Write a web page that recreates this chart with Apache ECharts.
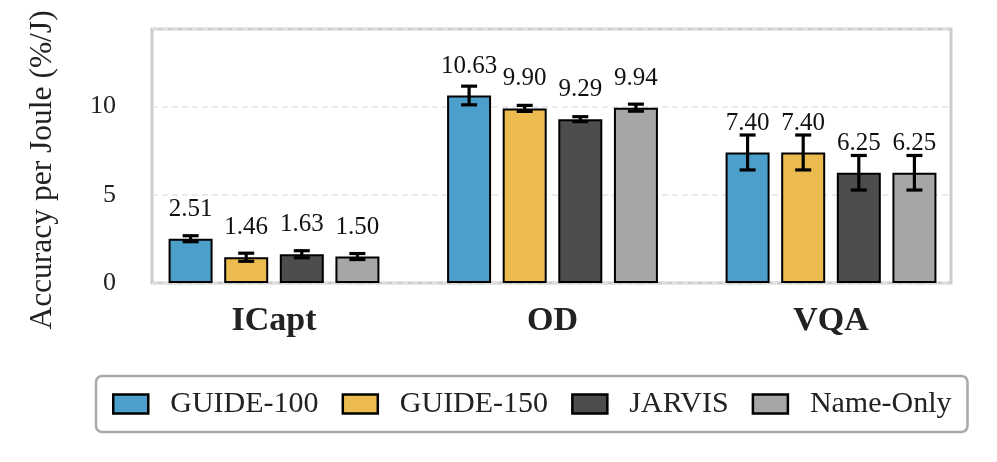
<!DOCTYPE html>
<html><head><meta charset="utf-8">
<script src="https://cdn.jsdelivr.net/npm/echarts@6/dist/echarts.min.js"></script>
<style>html,body{margin:0;padding:0;background:#fff}#c{width:997px;height:462px}</style>
</head><body><div id="c"></div>
<script>
const categories = ['ICapt', 'OD', 'VQA'];
const seriesNames = ['GUIDE-100', 'GUIDE-150', 'JARVIS', 'Name-Only'];
const guide100 = [2.51, 10.63, 7.40];
const guide150 = [1.46, 9.90, 7.40];
const jarvis = [1.63, 9.29, 6.25];
const nameOnly = [1.50, 9.94, 6.25];
const guide100Err = [0.17, 0.53, 0.99];
const guide150Err = [0.23, 0.17, 0.99];
const jarvisErr = [0.20, 0.14, 0.98];
const nameOnlyErr = [0.17, 0.20, 0.98];
const yTicks = [0, 5, 10];
const yTitle = 'Accuracy per Joule (%/J)';

const values = [guide100, guide150, jarvis, nameOnly];
const errs = [guide100Err, guide150Err, jarvisErr, nameOnlyErr];
const colors = ['#4D9FCB', '#ECBB4F', '#4D4D4D', '#A6A6A6'];
const FONT = '"Liberation Serif", "Times New Roman", serif';
const YMAX = 14.4;
const BAR_W = 44, PITCH = 55.6;

const errData = [];
values.forEach((vals, s) => vals.forEach((v, c) => errData.push([c, v, errs[s][c], s])));

const chart = echarts.init(document.getElementById('c'), null, {renderer: 'canvas'});
const barSeries = seriesNames.map((name, s) => ({
  name, type: 'bar', xAxisIndex: 1, yAxisIndex: 1,
  data: values[s], barWidth: BAR_W, barGap: ((PITCH - BAR_W) / BAR_W * 100).toFixed(1) + '%',
  itemStyle: {color: colors[s], borderColor: '#000', borderWidth: 2},
  label: {show: true, position: 'top', distance: 17, fontFamily: FONT, fontSize: 25, color: '#111',
    formatter: p => p.value.toFixed(2)},
  z: 2
}));

chart.setOption({
  animation: false,
  textStyle: {fontFamily: FONT},
  graphic: [{
    type: 'text', x: 43, y: 170, rotation: Math.PI / 2,
    style: {text: yTitle, fontFamily: FONT, fontSize: 31.5, fill: '#222',
      textAlign: 'center', textVerticalAlign: 'middle'}
  }],
  grid: [
    {left: 152, top: 29, width: 799, height: 254, show: true, borderColor: '#CCCCCC', borderWidth: 3, backgroundColor: 'transparent'},
    {left: 134.75, top: 29, width: 835.5, height: 254}
  ],
  legend: {
    data: seriesNames, left: 96, top: 376, orient: 'horizontal',
    itemWidth: 35, itemHeight: 19, itemGap: 23,
    padding: [13, 16, 13, 16],
    borderColor: '#AAAAAA', borderWidth: 2.5, borderRadius: 6, backgroundColor: '#fff',
    textStyle: {fontFamily: FONT, fontSize: 30, color: '#222', padding: [0, 0, 0, 17]},
    itemStyle: {borderColor: '#000', borderWidth: 2.5},
    icon: 'rect'
  },
  xAxis: [
    {type: 'category', gridIndex: 0, data: categories, show: false},
    {type: 'category', gridIndex: 1, data: categories,
      axisLine: {show: false}, axisTick: {show: false},
      axisLabel: {fontFamily: FONT, fontWeight: 'bold', fontSize: 34, color: '#222', margin: 21}}
  ],
  yAxis: [
    {type: 'value', gridIndex: 0, min: 0, max: YMAX, interval: 5,
      axisLine: {show: false}, axisTick: {show: false},
      axisLabel: {fontFamily: FONT, fontSize: 26, color: '#222', margin: 36, padding: [6, 0, 0, 0],
        formatter: v => yTicks.includes(v) ? String(v) : ''},
      splitLine: {show: true, lineStyle: {color: '#E3E3E3', width: 1.5, type: [6, 4]}}},
    {type: 'value', gridIndex: 1, min: 0, max: YMAX, show: false, splitLine: {show: false}}
  ],
  series: [...barSeries, {
    type: 'custom', xAxisIndex: 1, yAxisIndex: 1, z: 5, silent: true,
    data: errData,
    encode: {x: 0, y: 1},
    renderItem: (params, api) => {
      const c = api.value(0), v = api.value(1), e = api.value(2), s = api.value(3);
      const center = api.coord([c, v]);
      const x = center[0] + (s - 1.5) * PITCH;
      const yTop = api.coord([c, v + e])[1];
      const yBot = api.coord([c, v - e])[1];
      const st = {stroke: '#000', lineWidth: 3.2};
      const hw = 8;
      return {type: 'group', children: [
        {type: 'line', shape: {x1: x, y1: yTop, x2: x, y2: yBot}, style: st},
        {type: 'line', shape: {x1: x - hw, y1: yTop, x2: x + hw, y2: yTop}, style: st},
        {type: 'line', shape: {x1: x - hw, y1: yBot, x2: x + hw, y2: yBot}, style: st}
      ]};
    }
  }]
});
</script></body></html>
